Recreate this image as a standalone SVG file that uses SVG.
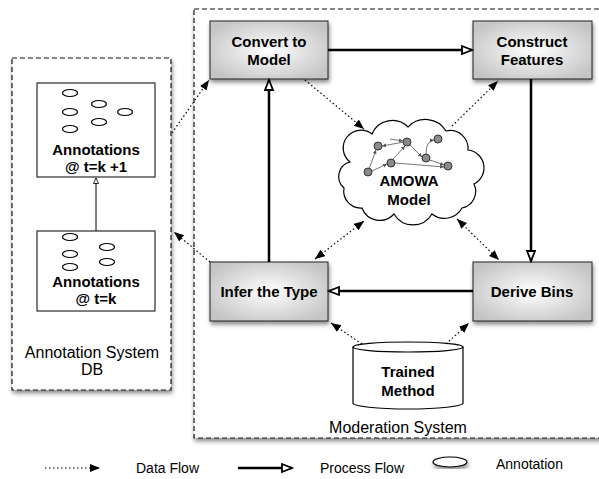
<svg xmlns="http://www.w3.org/2000/svg" width="599" height="479" viewBox="0 0 599 479">
<style>
  .lbl { font-family: "Liberation Sans", Arial, sans-serif; fill: #000; }
  .b15 { font-size: 15px; font-weight: bold; text-anchor: middle; }
  .r16 { font-size: 16px; text-anchor: middle; }
  .r14 { font-size: 14px; }
  .node { fill: url(#boxgrad); stroke: #222; stroke-width: 1; }
  .plain { fill: #fff; stroke: #000; stroke-width: 1; }
  .dash { fill: #fff; stroke: #111; stroke-width: 1.2; stroke-dasharray: 5 3; }
  .data { fill: none; stroke: #000; stroke-width: 1.2; stroke-dasharray: 1.5 2.5; }
  .proc { fill: none; stroke: #000; stroke-width: 2.5; }
  .thin { fill: none; stroke: #000; stroke-width: 1; }
  .ann { fill: #fff; stroke: #000; stroke-width: 1.2; }
  .nn { fill: #8a8a8a; stroke: #333; stroke-width: 1; }
  .ne { fill: none; stroke: #666; stroke-width: 0.9; }
</style>
<defs>
  <radialGradient id="boxgrad" cx="50%" cy="50%" r="60%">
    <stop offset="0" stop-color="#ffffff"/>
    <stop offset="1" stop-color="#c4c4c4"/>
  </radialGradient>
  <filter id="shadow" x="-10%" y="-10%" width="130%" height="130%">
    <feDropShadow dx="1" dy="3" stdDeviation="2" flood-color="#000" flood-opacity="0.45"/>
  </filter>
  <marker id="fill" markerUnits="userSpaceOnUse" markerWidth="12" markerHeight="10" refX="10" refY="4" orient="auto-start-reverse">
    <path d="M0,0 L10,4 L0,8 Z" fill="#000"/>
  </marker>
  <marker id="open" markerUnits="userSpaceOnUse" markerWidth="14" markerHeight="12" refX="11" refY="5" orient="auto">
    <path d="M1,1 L11,5 L1,9 Z" fill="#fff" stroke="#000" stroke-width="1.8"/>
  </marker>
  <marker id="small" markerUnits="userSpaceOnUse" markerWidth="8" markerHeight="8" refX="6" refY="3" orient="auto">
    <path d="M0.5,0.5 L6,3 L0.5,5.5 Z" fill="#fff" stroke="#000" stroke-width="0.8"/>
  </marker>
  <marker id="tiny" markerUnits="userSpaceOnUse" markerWidth="6" markerHeight="6" refX="4" refY="2" orient="auto">
    <path d="M0,0 L4,2 L0,4 Z" fill="#555"/>
  </marker>
</defs>

<!-- containers -->
<g id="moderation-system">
  <rect class="dash" x="194" y="9" width="410" height="429" filter="url(#shadow)"/>
  <text class="lbl r16" x="398" y="433">Moderation System</text>
</g>
<g id="annotation-system-db">
  <rect class="dash" x="12" y="58" width="159" height="332" filter="url(#shadow)"/>
  <text class="lbl r16" x="92" y="358">Annotation System</text>
  <text class="lbl r16" x="92" y="375">DB</text>
</g>

<g id="annotations-k1">
  <rect class="plain" x="37" y="83" width="118" height="94"/>
  <ellipse class="ann" cx="70" cy="93" rx="7.5" ry="3.5"/>
  <ellipse class="ann" cx="70" cy="112" rx="7.5" ry="3.5"/>
  <ellipse class="ann" cx="70" cy="129" rx="7.5" ry="3.5"/>
  <ellipse class="ann" cx="99" cy="104" rx="7.5" ry="3.5"/>
  <ellipse class="ann" cx="99" cy="122" rx="7.5" ry="3.5"/>
  <ellipse class="ann" cx="125" cy="112" rx="7.5" ry="3.5"/>
  <text class="lbl b15" x="96" y="155">Annotations</text>
  <text class="lbl b15" x="96" y="172">@ t=k +1</text>
</g>
<g id="annotations-k">
  <rect class="plain" x="37" y="231" width="118" height="80"/>
  <ellipse class="ann" cx="70" cy="237" rx="7.5" ry="3.5"/>
  <ellipse class="ann" cx="70" cy="254" rx="7.5" ry="3.5"/>
  <ellipse class="ann" cx="70" cy="267" rx="7.5" ry="3.5"/>
  <ellipse class="ann" cx="107" cy="247" rx="7.5" ry="3.5"/>
  <ellipse class="ann" cx="107" cy="262" rx="7.5" ry="3.5"/>
  <text class="lbl b15" x="96" y="287">Annotations</text>
  <text class="lbl b15" x="96" y="304">@ t=k</text>
</g>

<g id="convert-to-model">
  <rect class="node" x="210" y="21" width="118" height="58" filter="url(#shadow)"/>
  <text class="lbl b15" x="269" y="47">Convert to</text>
  <text class="lbl b15" x="269" y="65">Model</text>
</g>
<g id="construct-features">
  <rect class="node" x="473" y="21" width="119" height="58" filter="url(#shadow)"/>
  <text class="lbl b15" x="532" y="47">Construct</text>
  <text class="lbl b15" x="532" y="65">Features</text>
</g>
<g id="infer-the-type">
  <rect class="node" x="210" y="262" width="118" height="59" filter="url(#shadow)"/>
  <text class="lbl b15" x="269" y="297">Infer the Type</text>
</g>
<g id="derive-bins">
  <rect class="node" x="473" y="262" width="119" height="59" filter="url(#shadow)"/>
  <text class="lbl b15" x="532" y="297">Derive Bins</text>
</g>

<g id="amowa-model">
  <path fill="#fff" stroke="#000" stroke-width="1.2" d="M 350,162 A 17,17 0 0 1 372,134 A 22,22 0 0 1 408,127 A 24,24 0 0 1 446,131 A 18,18 0 0 1 468,150 A 18,18 0 0 1 474,184 A 17,17 0 0 1 462,208 A 20,20 0 0 1 432,214 A 22,22 0 0 1 394,214 A 19,19 0 0 1 362,208 A 17,17 0 0 1 344,188 A 15,15 0 0 1 350,162 Z"/>
  <g>
    <line class="ne" x1="369" y1="169" x2="376" y2="150" marker-end="url(#tiny)"/>
    <line class="ne" x1="404" y1="142" x2="382" y2="146" marker-end="url(#tiny)"/>
    <line class="ne" x1="390" y1="139" x2="403" y2="141" marker-end="url(#tiny)"/>
    <line class="ne" x1="393" y1="159" x2="405" y2="146" marker-end="url(#tiny)"/>
    <line class="ne" x1="372" y1="171" x2="387" y2="164" marker-end="url(#tiny)"/>
    <line class="ne" x1="410" y1="145" x2="422" y2="157" marker-end="url(#tiny)"/>
    <path class="ne" d="M426,154 Q426,141 434,140" marker-end="url(#tiny)"/>
    <line class="ne" x1="430" y1="160" x2="444" y2="165" marker-end="url(#tiny)"/>
    <line class="ne" x1="395" y1="163" x2="444" y2="167" marker-end="url(#tiny)"/>
    <circle class="nn" cx="378" cy="146" r="4"/>
    <circle class="nn" cx="407" cy="142" r="4"/>
    <circle class="nn" cx="438" cy="139" r="4"/>
    <circle class="nn" cx="426" cy="158" r="4"/>
    <circle class="nn" cx="391" cy="163" r="4"/>
    <circle class="nn" cx="368" cy="172" r="4"/>
    <circle class="nn" cx="448" cy="166" r="4"/>
  </g>
  <text class="lbl b15" x="409" y="186">AMOWA</text>
  <text class="lbl b15" x="409" y="205">Model</text>
</g>

<g id="trained-method">
  <path fill="#fff" stroke="#000" stroke-width="1.2" d="M353,347 L353,403 A55,6 0 0 0 463,403 L463,347"/>
  <ellipse fill="#fff" stroke="#000" stroke-width="1.2" cx="408" cy="347" rx="55" ry="5"/>
  <text class="lbl b15" x="408" y="377">Trained</text>
  <text class="lbl b15" x="408" y="396">Method</text>
</g>

<g id="connectors">
  <line class="thin" x1="96" y1="231" x2="96" y2="178" marker-end="url(#small)"/>
  <line class="proc" x1="328" y1="50" x2="472" y2="50" marker-end="url(#open)"/>
  <line class="proc" x1="531" y1="79" x2="531" y2="261" marker-end="url(#open)"/>
  <line class="proc" x1="473" y1="291" x2="329" y2="291" marker-end="url(#open)"/>
  <line class="proc" x1="269" y1="262" x2="269" y2="80" marker-end="url(#open)"/>

  <line class="data" x1="172" y1="133" x2="209" y2="80" marker-end="url(#fill)"/>
  <line class="data" x1="210" y1="262" x2="174" y2="232" marker-end="url(#fill)"/>
  <line class="data" x1="305" y1="80" x2="364" y2="129" marker-end="url(#fill)"/>
  <line class="data" x1="452" y1="126" x2="498" y2="81" marker-end="url(#fill)"/>
  <line class="data" x1="315" y1="259" x2="364" y2="221" marker-start="url(#fill)" marker-end="url(#fill)"/>
  <line class="data" x1="457" y1="219" x2="499" y2="260" marker-start="url(#fill)" marker-end="url(#fill)"/>
  <line class="data" x1="362" y1="344" x2="331" y2="323" marker-end="url(#fill)"/>
  <line class="data" x1="446" y1="344" x2="469" y2="323" marker-end="url(#fill)"/>
</g>

<g id="legend">
  <line class="data" x1="45" y1="468" x2="100" y2="468" marker-end="url(#fill)"/>
  <text class="lbl r14" x="136" y="473">Data Flow</text>
  <line class="proc" x1="238" y1="468" x2="292" y2="468" marker-end="url(#open)"/>
  <text class="lbl r14" x="320" y="473">Process Flow</text>
  <ellipse class="ann" cx="450" cy="462" rx="17" ry="5" filter="url(#shadow)"/>
  <text class="lbl r14" x="496" y="469">Annotation</text>
</g>
</svg>
